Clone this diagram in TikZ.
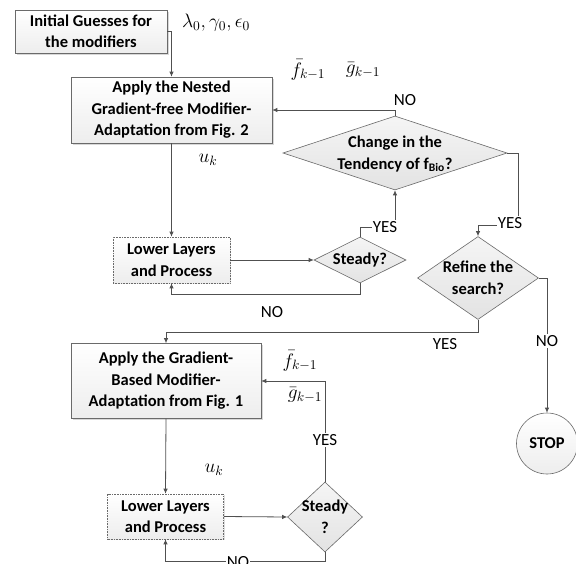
\documentclass[tikz,border=0pt]{standalone}
\usepackage{graphicx}
\usepackage{fontspec}
\setmainfont{Carlito}
\usetikzlibrary{shapes.geometric,arrows.meta,shadows}
\definecolor{ln}{HTML}{505050}
\definecolor{bd}{HTML}{6A6A6A}
\newcommand{\mlb}[1]{\scalebox{1.35}{$#1$}}
\tikzset{
  every node/.style={font=\fontsize{16}{21.5}\selectfont},
  box/.style={draw=bd, line width=0.6pt, align=center, inner sep=0pt,
    top color=white, bottom color=gray!14,
    drop shadow={shadow xshift=1.5pt, shadow yshift=-1.5pt, opacity=0.3, fill=gray},
    font=\fontsize{16.5}{21.5}\selectfont\bfseries},
  dbox/.style={draw=bd, line width=0.6pt, densely dotted, align=center, inner sep=0pt,
    top color=white, bottom color=gray!14,
    drop shadow={shadow xshift=1.2pt, shadow yshift=-1.2pt, opacity=0.25, fill=gray},
    font=\fontsize{16.5}{21.5}\selectfont\bfseries},
  dia/.style={diamond, draw=bd, line width=0.6pt, inner sep=0pt,
    top color=gray!8, bottom color=gray!22},
  dtxt/.style={align=center, font=\fontsize{16.5}{21.5}\selectfont\bfseries, inner sep=0pt},
  stopc/.style={circle, draw=bd, line width=0.6pt, inner sep=0pt,
    top color=white, bottom color=gray!14,
    font=\fontsize{16.5}{20}\selectfont\bfseries},
  arr/.style={draw=ln, line width=0.8pt, -{Latex[length=5pt,width=4.5pt]}},
  yn/.style={font=\fontsize{17}{20}\selectfont, fill=white, inner sep=1pt},
  mlab/.style={font=\fontsize{14}{16}\selectfont, inner sep=0pt},
}
\begin{document}
\begin{tikzpicture}[x=1pt,y=-1pt]
\useasboundingbox[fill=white] (0,0) rectangle (576,563);

% nodes
\node[box, minimum width=152, minimum height=43] (b1) at (91,31.5) {Initial Guesses for\\the modifiers};
\node[box, minimum width=201, minimum height=66] (b2) at (171.5,110) {Apply the Nested\\Gradient-free Modifier-\\Adaptation from Fig. 2};
\node[dia, minimum width=224, minimum height=74] (d1) at (395,153) {};
\node[dtxt] (d1t) at (395,154) {Change in the\\Tendency of f\textsubscript{Bio}?};
\node[dbox, minimum width=117, minimum height=46] (b3) at (171.5,260) {Lower Layers\\and Process};
\node[dia, minimum width=92, minimum height=46] (s1) at (360,260) {};
\node[dtxt] (s1t) at (360,260) {Steady?};
\node[dia, minimum width=121, minimum height=83] (rf) at (478,278) {};
\node[dtxt] (rft) at (478,278) {Refine the\\search?};
\node[stopc, minimum size=61] (stop) at (547,443.5) {STOP};
\node[box, minimum width=190, minimum height=75] (b4) at (166,381) {Apply the Gradient-\\Based Modifier-\\Adaptation from Fig. 1};
\node[dbox, minimum width=116, minimum height=45] (b5) at (165.5,516.5) {Lower Layers\\and Process};
\node[dia, minimum width=75, minimum height=70] (s2) at (325,517) {};
\node[dtxt] (s2t) at (325,517) {Steady\\?};

% math labels
\node[mlab] (lam) at (216,23) {\mlb{\lambda_0,\gamma_0,\epsilon_0}};
\node[mlab] (f1) at (308,70) {\mlb{\bar{f}_{k-1}}};
\node[mlab] (g1) at (363,70) {\mlb{\bar{g}_{k-1}}};
\node[mlab] (u1) at (208,160) {\mlb{u_k}};
\node[mlab] (f2) at (300,361) {\mlb{\bar{f}_{k-1}}};
\node[mlab] (g2) at (305,395) {\mlb{\bar{g}_{k-1}}};
\node[mlab] (u2) at (214,470) {\mlb{u_k}};

% coordinates
\coordinate (c1) at (518,225);
\coordinate (c2) at (395,227);

% connectors
\draw[arr] (b1.east) -| (b2.north);
\draw[arr] (d1.north) |- (b2.east);
\node[yn, fill=none] (no1) at (405,100) {NO};
\draw[arr] (d1.east) -| (c1) -| (rf.north);
\node[yn] (yes1) at (510,223) {YES};
\draw[arr] (s1.north) |- (c2) -- (d1.south);
\node[yn] (yes2) at (385,227) {YES};
\draw[arr] (b2.south) -- (b3.north);
\draw[arr] (b3.east) -- (s1.west);
\draw[arr] (s1.south) -- ++(0,11) -| (b3.south);
\node[yn, fill=none] (no2) at (272,312) {NO};
\draw[arr] (rf.south) -- ++(0,13) -| (b4.north);
\node[yn, fill=none] (yes3) at (445,344) {YES};
\draw[arr] (rf.east) -| (stop.north);
\node[yn] (no3) at (547,341) {NO};
\draw[arr] (b4.south) -- (b5.north);
\draw[arr] (b5.east) -- (s2.west);
\draw[arr] (s2.north) |- (b4.east);
\node[yn] (yes4) at (325,440) {YES};
\draw[arr] (s2.south) -- ++(0,9) -| (b5.south);
\node[yn] (no4) at (238,562) {NO};
\end{tikzpicture}
\end{document}
